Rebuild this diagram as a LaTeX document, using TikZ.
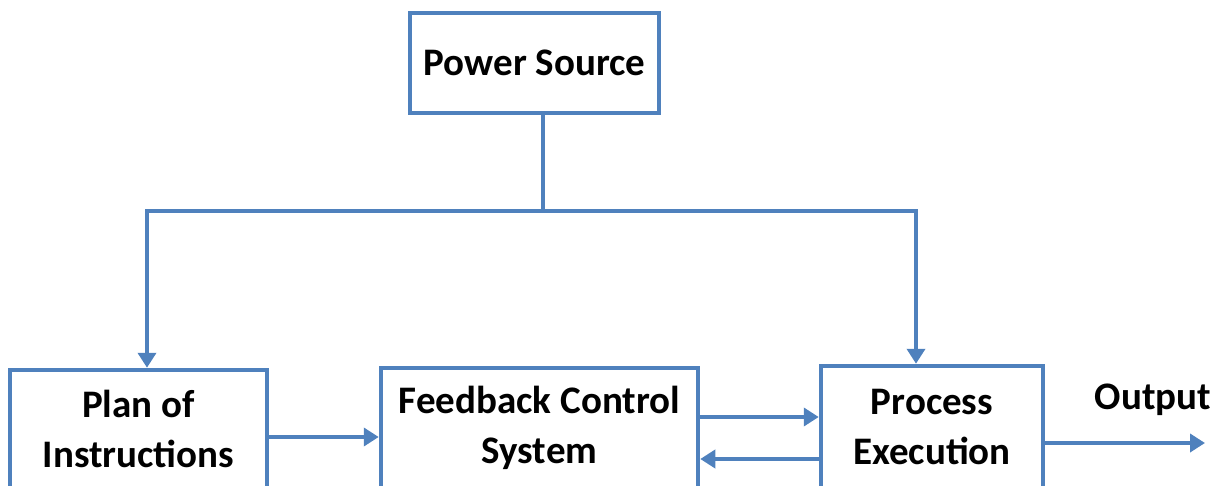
\documentclass[tikz,border=0pt]{standalone}
\usepackage{fontspec}
\setmainfont{Carlito}
\usepackage{xcolor}
\usepackage{tikz}
\usetikzlibrary{arrows.meta}
\definecolor{lineblue}{RGB}{79, 129, 189}
\tikzset{
  block/.style={draw=lineblue, line width=4.5pt, fill=white, align=center,
    font=\bfseries\fontsize{39}{50}\selectfont, inner sep=0pt},
  link/.style={draw=lineblue, line width=4.5pt},
  flow/.style={link, -{Triangle[length=15pt, width=18pt]}}
}

\begin{document}
\begin{tikzpicture}[x=1pt, y=-1pt]
\useasboundingbox (0,0) rectangle (1228,486);
\clip (0,0) rectangle (1228,486);

% Blocks
\node[block, minimum width=249pt, minimum height=100pt] (power) at (534.5,63) {Power Source};
\node[block, minimum width=257pt, minimum height=118pt] (plan) at (138.5,429) {Plan of\\Instructions};
\node[block, minimum width=317pt, minimum height=120pt] (fb) at (539.5,428) {Feedback Control\\System};
\node[block, minimum width=222pt, minimum height=122pt] (proc) at (932,427) {Process\\Execution};

% Power distribution
\coordinate (split) at (543,211);
\coordinate (lft) at (147,211);
\coordinate (rgt) at (916,211);
\draw[link] (power.south -| split) -- (split);
\draw[link, line cap=rect] (lft) -- (rgt);
\draw[flow] (lft) -- (lft |- plan.north);
\draw[flow] (rgt) -- (rgt |- proc.north);

% Signal paths
\draw[flow] ([yshift=-8pt]plan.east) -- ([yshift=-8pt]plan.east -| fb.west);
\draw[flow] ([yshift=11pt]fb.east) -- ([yshift=11pt]fb.east -| proc.west);
\draw[flow] ([yshift=-32pt]proc.west) -- ([yshift=-32pt]proc.west -| fb.east);

% Output
\coordinate (outend) at (1205,443);
\draw[flow] (proc.east |- outend) -- (outend);
\node[font=\bfseries\fontsize{39}{50}\selectfont, inner sep=0pt] (outlbl) at (1153,400) {Output};
\end{tikzpicture}
\end{document}
